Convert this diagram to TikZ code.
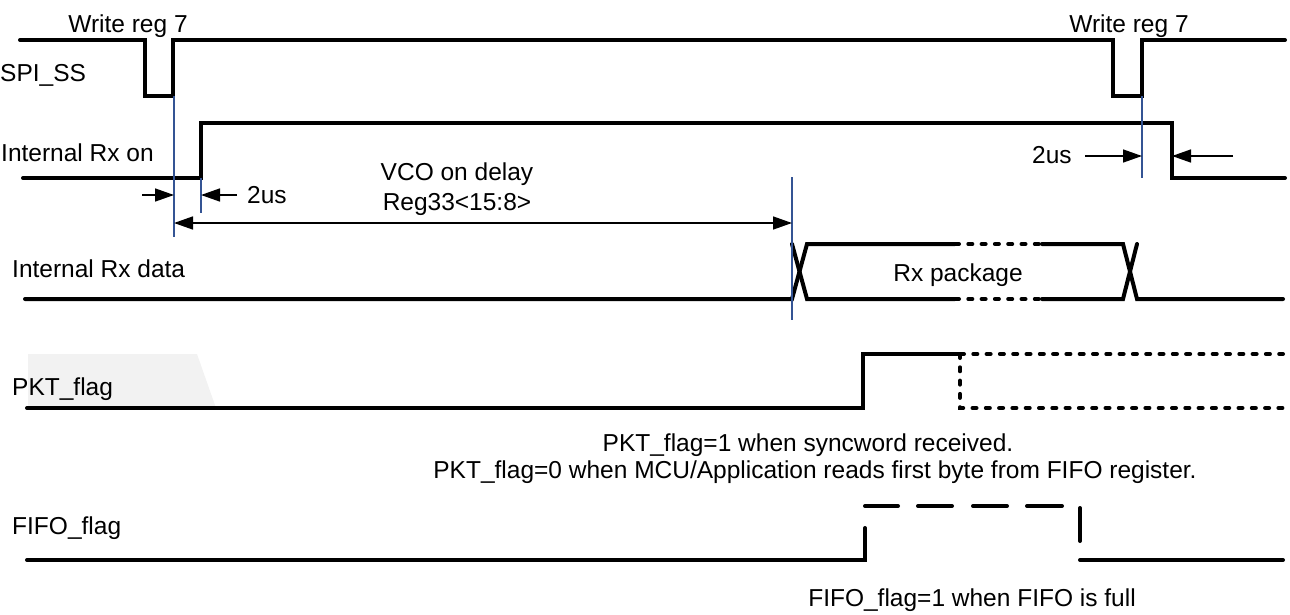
\documentclass[tikz,border=0pt]{standalone}
\usepackage{fontspec}
\setmainfont{Liberation Sans}
\usetikzlibrary{arrows.meta}
\definecolor{guide}{RGB}{52,84,148}
\definecolor{lightgrey}{RGB}{242,242,242}
\tikzset{
  sig/.style={line width=4pt, line cap=round, line join=miter},
  dots/.style={sig, dash pattern=on 4pt off 9.3pt},
  guideline/.style={draw=guide, line width=1.2pt},
  dim/.style={line width=1.5pt, -{Triangle[length=19pt,width=13pt]}},
  dimboth/.style={line width=1.5pt, {Triangle[length=19pt,width=13pt]}-{Triangle[length=19pt,width=13pt]}},
  lbl/.style={inner sep=0pt, font=\fontsize{24.5}{29}\selectfont}
}
\begin{document}
\begin{tikzpicture}[x=1pt,y=-1pt]
\useasboundingbox (0,0) rectangle (1290,614);

% ---------- background tab behind PKT_flag ----------
\fill[lightgrey] (28,354) -- (197,354) -- (216,408) -- (28,408) -- cycle;

% ---------- labels ----------
\node[lbl, anchor=base] (w1) at (128,32) {Write reg 7};
\node[lbl, anchor=base] (w2) at (1129,32) {Write reg 7};
\node[lbl, anchor=base west] (lspi) at (0,81) {SPI\_SS};
\node[lbl, anchor=base west] (lrxon) at (1,161) {Internal Rx on};
\node[lbl, anchor=base west] (t2a) at (247,203) {2us};
\node[lbl, anchor=base] (vco1) at (457,180) {VCO on delay};
\node[lbl, anchor=base] (vco2) at (457,210) {Reg33<15:8>};
\node[lbl, anchor=base west] (t2b) at (1032,163) {2us};
\node[lbl, anchor=base west] (lrxd) at (12,277) {Internal Rx data};
\node[lbl, anchor=base] (pkg) at (958,281) {Rx package};
\node[lbl, anchor=base west] (lpkt) at (12,395) {PKT\_flag};
\node[lbl, anchor=base] (n1) at (808,451) {PKT\_flag=1 when syncword received.};
\node[lbl, anchor=base] (n2) at (815,478) {PKT\_flag=0 when MCU/Application reads first byte from FIFO register.};
\node[lbl, anchor=base west] (lfifo) at (12,534) {FIFO\_flag};
\node[lbl, anchor=base] (n3) at (972,606) {FIFO\_flag=1 when FIFO is full};

% ---------- reference points ----------
\coordinate (g1t) at (174,96);  \coordinate (g1b) at (174,237);
\coordinate (g2t) at (201,178); \coordinate (g2b) at (201,213);
\coordinate (g3t) at (792,177); \coordinate (g3b) at (792,320);
\coordinate (g4t) at (1142,96); \coordinate (g4b) at (1142,178);

% ---------- SPI_SS ----------
\draw[sig] (20,40) -- (145,40) -- (145,96) -- (173,96) -- (173,40)
  -- (1113,40) -- (1113,96) -- (1142,96) -- (1142,40) -- (1285,40);

% ---------- Internal Rx on ----------
\draw[sig] (23,178) -- (201,178) -- (201,123) -- (1172,123) -- (1172,178) -- (1285,178);

% ---------- Internal Rx data ----------
\draw[sig] (25,299) -- (792,299) -- (807,244) -- (955,244);
\draw[dots] (955,244) -- (1042,244);
\draw[sig] (1042,244) -- (1123,244) -- (1137,299) -- (1283,299);
\draw[sig] (792,244) -- (807,299) -- (955,299);
\draw[dots] (955,299) -- (1042,299);
\draw[sig] (1042,299) -- (1123,299) -- (1137,244);

% ---------- PKT_flag ----------
\draw[sig] (27,408) -- (863,408) -- (863,354) -- (960,354);
\draw[dots] (960,354) -- (1283,354);
\draw[dots] (960,354) -- (960,408) -- (1283,408);

% ---------- FIFO_flag ----------
\draw[sig] (27,560) -- (865,560) -- (865,528);
\draw[sig] (865,506) -- (898,506);
\draw[sig] (918,506) -- (952,506);
\draw[sig] (973,506) -- (1007,506);
\draw[sig] (1027,506) -- (1062,506);
\draw[sig] (1080,508) -- (1080,541);
\draw[sig] (1080,560) -- (1283,560);

% ---------- guides ----------
\draw[guideline] (g1t) -- (g1b);
\draw[guideline] (g2t) -- (g2b);
\draw[guideline] (g3t) -- (g3b);
\draw[guideline] (g4t) -- (g4b);

% ---------- dimension arrows ----------
\coordinate (a1s) at (142,195); \coordinate (a1e) at (174,195);
\coordinate (a2s) at (237,195); \coordinate (a2e) at (201,195);
\coordinate (a3s) at (174,223); \coordinate (a3e) at (792,223);
\coordinate (a4s) at (1085,156); \coordinate (a4e) at (1142,156);
\coordinate (a5s) at (1233,156); \coordinate (a5e) at (1172,156);
\draw[dim] (a1s) -- (a1e);
\draw[dim] (a2s) -- (a2e);
\draw[dimboth] (a3s) -- (a3e);
\draw[dim] (a4s) -- (a4e);
\draw[dim] (a5s) -- (a5e);
\end{tikzpicture}
\end{document}
